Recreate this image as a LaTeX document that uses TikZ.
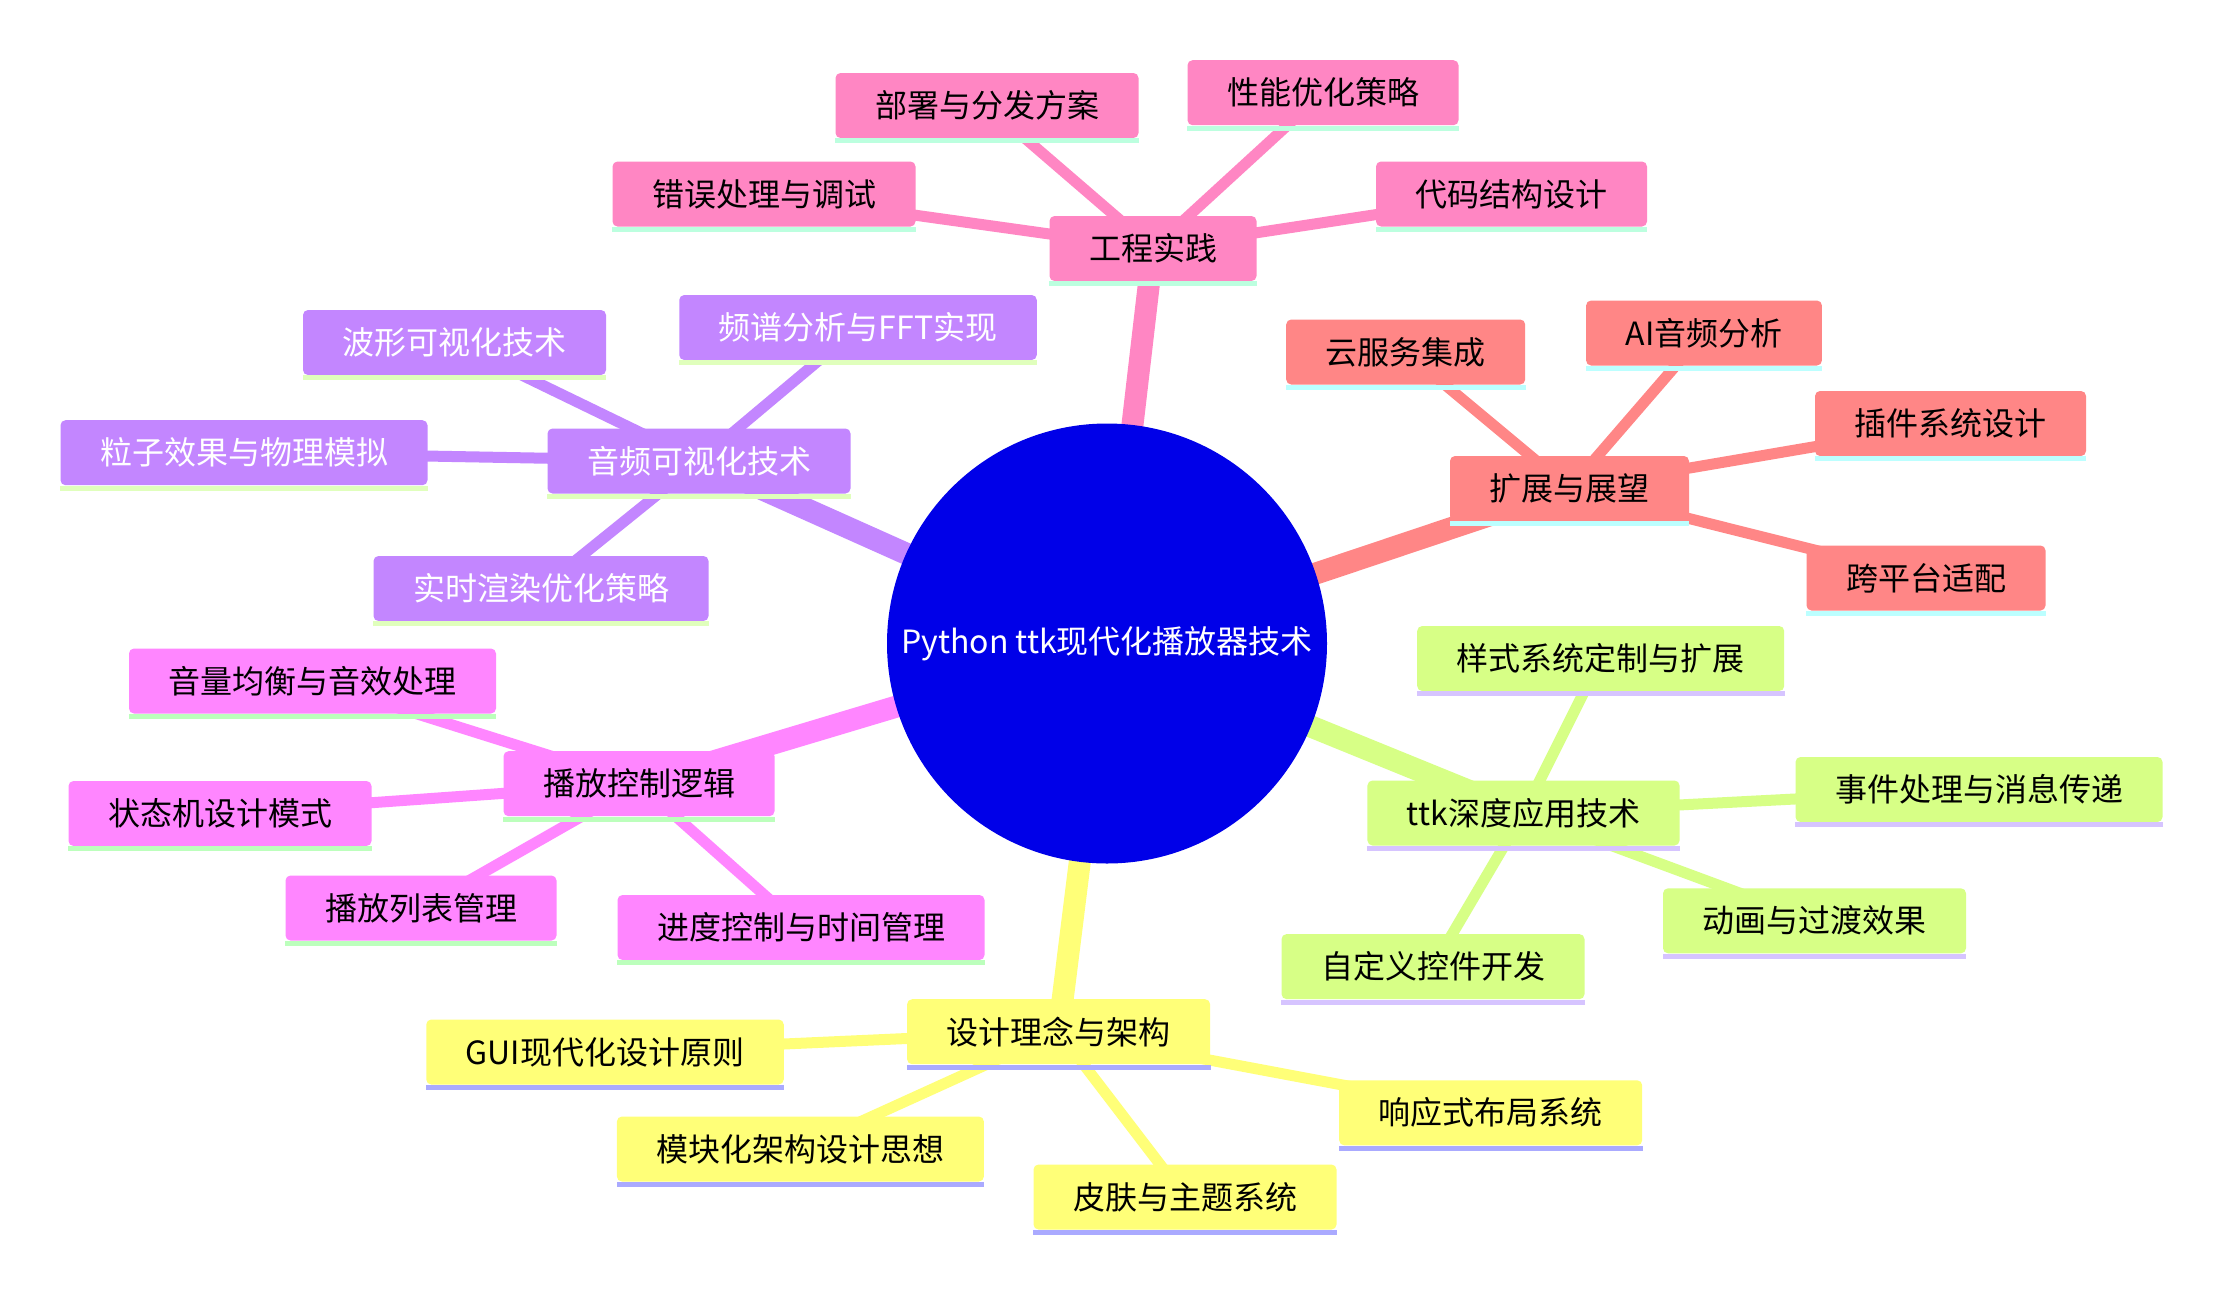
\documentclass[tikz,border=0pt]{standalone}
\usepackage{fontspec}
\setmainfont{Noto Sans CJK SC}
\pgfdeclarelayer{bg}
\pgfsetlayers{bg,main}
\definecolor{rootF}{HTML}{0000E8}
\definecolor{pkF}{HTML}{FF86C3}\definecolor{pkL}{HTML}{BCFFDF}
\definecolor{saF}{HTML}{FF8686}\definecolor{saL}{HTML}{BCFFFF}
\definecolor{liF}{HTML}{D7FF86}\definecolor{liL}{HTML}{D6C4FF}
\definecolor{yeF}{HTML}{FFFF78}\definecolor{yeL}{HTML}{AAAAFF}
\definecolor{maF}{HTML}{FF86FF}\definecolor{maL}{HTML}{BCFFBC}
\definecolor{puF}{HTML}{C386FF}\definecolor{puL}{HTML}{E0FFBC}
\tikzset{
  box/.style={rectangle, rounded corners=2.5pt, minimum height=32.5pt,
    inner xsep=19.75pt, inner ysep=0pt, text=black,
    font=\fontsize{16pt}{19pt}\selectfont},
  pk/.style={box, fill=pkF},
  sa/.style={box, fill=saF},
  li/.style={box, fill=liF},
  ye/.style={box, fill=yeF},
  ma/.style={box, fill=maF},
  pu/.style={box, fill=puF, text=white},
  rootnode/.style={circle, fill=rootF, text=white, minimum size=220pt, inner sep=0pt,
    font=\fontsize{16pt}{19pt}\selectfont},
  rootedge/.style={line width=11pt},
  childedge/.style={line width=5.5pt},
}
\begin{document}
\begin{tikzpicture}[x=0.5pt, y=-0.5pt]
\useasboundingbox (0,0) rectangle (2222,1291);

\node[rootnode] (root) at (1107,643.5) {Python ttk现代化播放器技术};

% pink section
\node[pk] (gc) at (1153,248.5) {工程实践};
\node[pk] (g1) at (764,194) {错误处理与调试};
\node[pk] (g2) at (987,105.5) {部署与分发方案};
\node[pk] (g3) at (1323,92.7) {性能优化策略};
\node[pk] (g4) at (1511.5,194) {代码结构设计};

% salmon section
\node[sa] (kc) at (1569.5,488.5) {扩展与展望};
\node[sa] (k1) at (1405.7,352) {云服务集成};
\node[sa] (k2) at (1704,333) {AI音频分析};
\node[sa] (k3) at (1950.5,423.5) {插件系统设计};
\node[sa] (k4) at (1926,578) {跨平台适配};

% lime section
\node[li] (tc) at (1523.5,813) {ttk深度应用技术};
\node[li] (t1) at (1600.7,658.5) {样式系统定制与扩展};
\node[li] (t2) at (1979,789.5) {事件处理与消息传递};
\node[li] (t3) at (1814.5,920.8) {动画与过渡效果};
\node[li] (t4) at (1433,966.6) {自定义控件开发};

% yellow section
\node[ye] (dc) at (1058.6,1031.7) {设计理念与架构};
\node[ye] (d1) at (605,1052) {GUI现代化设计原则};
\node[ye] (d2) at (800.4,1149) {模块化架构设计思想};
\node[ye] (d3) at (1185,1197) {皮肤与主题系统};
\node[ye] (d4) at (1490.7,1112.8) {响应式布局系统};

% magenta section
\node[ma] (pc) at (639,783.7) {播放控制逻辑};
\node[ma] (p1) at (312.5,681) {音量均衡与音效处理};
\node[ma] (p2) at (220,813.5) {状态机设计模式};
\node[ma] (p3) at (421,908) {播放列表管理};
\node[ma] (p4) at (801,927.5) {进度控制与时间管理};

% purple section
\node[pu] (vc) at (699,461) {音频可视化技术};
\node[pu] (v1) at (454.5,342.5) {波形可视化技术};
\node[pu] (v2) at (858,327.5) {频谱分析与FFT实现};
\node[pu] (v3) at (244,452.7) {粒子效果与物理模拟};
\node[pu] (v4) at (541,588.5) {实时渲染优化策略};

% underlines
\foreach \n/\c in {gc/pkL,g1/pkL,g2/pkL,g3/pkL,g4/pkL,
                   kc/saL,k1/saL,k2/saL,k3/saL,k4/saL,
                   tc/liL,t1/liL,t2/liL,t3/liL,t4/liL,
                   dc/yeL,d1/yeL,d2/yeL,d3/yeL,d4/yeL,
                   pc/maL,p1/maL,p2/maL,p3/maL,p4/maL,
                   vc/puL,v1/puL,v2/puL,v3/puL,v4/puL}
  \fill[\c] (\n.south west) rectangle ([yshift=-2.5pt]\n.south east);

\begin{pgfonlayer}{bg}
  \fill[white] (0,0) rectangle (2222,1291);
  \foreach \a/\c in {gc/pkF,kc/saF,tc/liF,dc/yeF,pc/maF,vc/puF}
    \draw[rootedge, \c] (root.center) -- (\a.center);
  \foreach \b in {g1,g2,g3,g4} \draw[childedge, pkF] (gc.center) -- (\b.center);
  \foreach \b in {k1,k2,k3,k4} \draw[childedge, saF] (kc.center) -- (\b.center);
  \foreach \b in {t1,t2,t3,t4} \draw[childedge, liF] (tc.center) -- (\b.center);
  \foreach \b in {d1,d2,d3,d4} \draw[childedge, yeF] (dc.center) -- (\b.center);
  \foreach \b in {p1,p2,p3,p4} \draw[childedge, maF] (pc.center) -- (\b.center);
  \foreach \b in {v1,v2,v3,v4} \draw[childedge, puF] (vc.center) -- (\b.center);
\end{pgfonlayer}
\end{tikzpicture}
\end{document}
